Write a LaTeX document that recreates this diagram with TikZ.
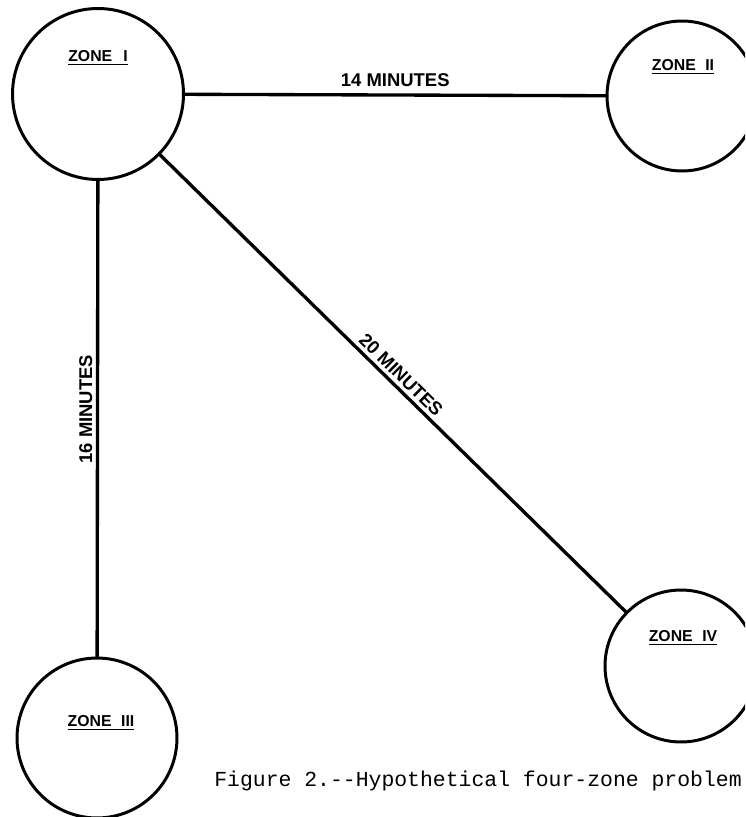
\documentclass[tikz,border=0pt]{standalone}
\usepackage{fontspec}
\setmainfont{Liberation Sans}
\setmonofont{Liberation Mono}
\usetikzlibrary{positioning}

\begin{document}
\begin{tikzpicture}[
    x=0.02cm, y=-0.02cm,
    zone/.style={draw=black, circle, line width=1.7pt, inner sep=0pt, outer sep=0pt},
    link/.style={draw=black, line width=1.9pt},
    zonelabel/.style={font=\fontsize{9}{10}\selectfont\bfseries},
    time/.style={font=\fontsize{10.5}{12}\selectfont\bfseries, inner sep=2pt},
    caption/.style={font=\fontsize{12.2}{14}\selectfont\ttfamily},
]
\clip (0,0) rectangle (745,817);

% ---------------------------------------------------------
% Zones
% ---------------------------------------------------------
\node[zone, minimum size=3.42cm] (z1) at (98,94) {};
\node[zone, minimum size=3.0cm]  (z2) at (682,96) {};
\node[zone, minimum size=3.2cm]  (z3) at (97,738) {};
\node[zone, minimum size=3.04cm] (z4) at (681,666) {};

\node[zonelabel] (l1) at (98,58)   {\underline{ZONE\hspace{0.7em}I}};
\node[zonelabel] (l2) at (683,67)  {\underline{ZONE\hspace{0.6em}II}};
\node[zonelabel] (l3) at (101,723) {\underline{ZONE\hspace{0.6em}III}};
\node[zonelabel] (l4) at (683,638) {\underline{ZONE\hspace{0.6em}IV}};

% ---------------------------------------------------------
% Travel times
% ---------------------------------------------------------
\draw[link] (z1) -- (z2) node[time, midway, above=2pt] {14 MINUTES};
\draw[link] (z3) -- (z1) node[time, pos=0.52, above, sloped] {16 MINUTES};
\draw[link] (z1) -- (z4) node[time, midway, above, sloped] {20 MINUTES};

\node[caption] (cap) at (478,781) {Figure 2.--Hypothetical four-zone problem};
\end{tikzpicture}
\end{document}
